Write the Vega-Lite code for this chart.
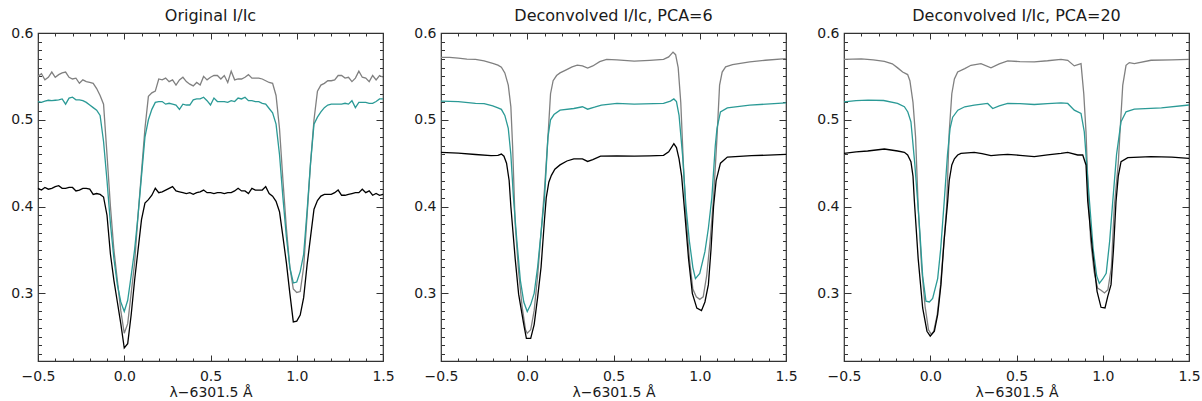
{
"$schema": "https://vega.github.io/schema/vega-lite/v6.json",
"background": "white",
"padding": {"left": 7, "top": 7, "right": 5, "bottom": 2},
"config": {
  "view": {"stroke": "#333333", "strokeWidth": 1.2},
  "font": "DejaVu Sans",
  "axis": {"grid": false, "domain": false, "labelFont": "DejaVu Sans", "labelFontSize": 14, "labelColor": "#1a1a1a", "tickColor": "#333333", "tickWidth": 1, "titleFont": "DejaVu Sans", "titleFontSize": 14, "titleFontWeight": "normal", "titleColor": "#1a1a1a"},
  "title": {"font": "DejaVu Sans", "fontSize": 16, "fontWeight": "normal", "color": "#1a1a1a", "offset": 2, "anchor": "middle"}
},
"datasets": {"d": [
{"p":"a","s":"g","x":-0.50,"y":0.550},{"p":"a","s":"g","x":-0.48,"y":0.553},{"p":"a","s":"g","x":-0.46,"y":0.546},{"p":"a","s":"g","x":-0.44,"y":0.549},{"p":"a","s":"g","x":-0.42,"y":0.555},{"p":"a","s":"g","x":-0.40,"y":0.549},{"p":"a","s":"g","x":-0.38,"y":0.552},{"p":"a","s":"g","x":-0.36,"y":0.554},{"p":"a","s":"g","x":-0.34,"y":0.555},{"p":"a","s":"g","x":-0.32,"y":0.549},{"p":"a","s":"g","x":-0.30,"y":0.547},{"p":"a","s":"g","x":-0.28,"y":0.548},{"p":"a","s":"g","x":-0.26,"y":0.542},{"p":"a","s":"g","x":-0.24,"y":0.546},{"p":"a","s":"g","x":-0.22,"y":0.544},{"p":"a","s":"g","x":-0.20,"y":0.543},{"p":"a","s":"g","x":-0.18,"y":0.542},{"p":"a","s":"g","x":-0.16,"y":0.536},{"p":"a","s":"g","x":-0.14,"y":0.528},{"p":"a","s":"g","x":-0.12,"y":0.518},{"p":"a","s":"g","x":-0.10,"y":0.46},{"p":"a","s":"g","x":-0.08,"y":0.40},{"p":"a","s":"g","x":-0.06,"y":0.35},{"p":"a","s":"g","x":-0.04,"y":0.315},{"p":"a","s":"g","x":-0.02,"y":0.28},{"p":"a","s":"g","x":0.00,"y":0.254},{"p":"a","s":"g","x":0.02,"y":0.265},{"p":"a","s":"g","x":0.04,"y":0.30},{"p":"a","s":"g","x":0.06,"y":0.335},{"p":"a","s":"g","x":0.08,"y":0.39},{"p":"a","s":"g","x":0.10,"y":0.44},{"p":"a","s":"g","x":0.12,"y":0.49},{"p":"a","s":"g","x":0.14,"y":0.527},{"p":"a","s":"g","x":0.16,"y":0.531},{"p":"a","s":"g","x":0.18,"y":0.533},{"p":"a","s":"g","x":0.20,"y":0.547},{"p":"a","s":"g","x":0.22,"y":0.546},{"p":"a","s":"g","x":0.24,"y":0.548},{"p":"a","s":"g","x":0.26,"y":0.544},{"p":"a","s":"g","x":0.28,"y":0.546},{"p":"a","s":"g","x":0.30,"y":0.540},{"p":"a","s":"g","x":0.32,"y":0.546},{"p":"a","s":"g","x":0.34,"y":0.549},{"p":"a","s":"g","x":0.36,"y":0.544},{"p":"a","s":"g","x":0.38,"y":0.541},{"p":"a","s":"g","x":0.40,"y":0.539},{"p":"a","s":"g","x":0.42,"y":0.543},{"p":"a","s":"g","x":0.44,"y":0.540},{"p":"a","s":"g","x":0.46,"y":0.550},{"p":"a","s":"g","x":0.48,"y":0.546},{"p":"a","s":"g","x":0.50,"y":0.549},{"p":"a","s":"g","x":0.52,"y":0.551},{"p":"a","s":"g","x":0.54,"y":0.551},{"p":"a","s":"g","x":0.56,"y":0.547},{"p":"a","s":"g","x":0.58,"y":0.551},{"p":"a","s":"g","x":0.60,"y":0.543},{"p":"a","s":"g","x":0.62,"y":0.556},{"p":"a","s":"g","x":0.64,"y":0.546},{"p":"a","s":"g","x":0.66,"y":0.547},{"p":"a","s":"g","x":0.68,"y":0.547},{"p":"a","s":"g","x":0.70,"y":0.549},{"p":"a","s":"g","x":0.72,"y":0.552},{"p":"a","s":"g","x":0.74,"y":0.548},{"p":"a","s":"g","x":0.76,"y":0.548},{"p":"a","s":"g","x":0.78,"y":0.548},{"p":"a","s":"g","x":0.80,"y":0.547},{"p":"a","s":"g","x":0.82,"y":0.545},{"p":"a","s":"g","x":0.84,"y":0.543},{"p":"a","s":"g","x":0.86,"y":0.542},{"p":"a","s":"g","x":0.88,"y":0.528},{"p":"a","s":"g","x":0.90,"y":0.49},{"p":"a","s":"g","x":0.92,"y":0.43},{"p":"a","s":"g","x":0.94,"y":0.375},{"p":"a","s":"g","x":0.96,"y":0.33},{"p":"a","s":"g","x":0.98,"y":0.305},{"p":"a","s":"g","x":1.00,"y":0.301},{"p":"a","s":"g","x":1.02,"y":0.302},{"p":"a","s":"g","x":1.04,"y":0.33},{"p":"a","s":"g","x":1.06,"y":0.39},{"p":"a","s":"g","x":1.08,"y":0.45},{"p":"a","s":"g","x":1.10,"y":0.50},{"p":"a","s":"g","x":1.12,"y":0.533},{"p":"a","s":"g","x":1.14,"y":0.540},{"p":"a","s":"g","x":1.16,"y":0.542},{"p":"a","s":"g","x":1.18,"y":0.545},{"p":"a","s":"g","x":1.20,"y":0.545},{"p":"a","s":"g","x":1.22,"y":0.546},{"p":"a","s":"g","x":1.24,"y":0.551},{"p":"a","s":"g","x":1.26,"y":0.551},{"p":"a","s":"g","x":1.28,"y":0.548},{"p":"a","s":"g","x":1.30,"y":0.549},{"p":"a","s":"g","x":1.32,"y":0.544},{"p":"a","s":"g","x":1.34,"y":0.548},{"p":"a","s":"g","x":1.36,"y":0.556},{"p":"a","s":"g","x":1.38,"y":0.549},{"p":"a","s":"g","x":1.40,"y":0.548},{"p":"a","s":"g","x":1.42,"y":0.544},{"p":"a","s":"g","x":1.44,"y":0.551},{"p":"a","s":"g","x":1.46,"y":0.546},{"p":"a","s":"g","x":1.48,"y":0.551},{"p":"a","s":"g","x":1.50,"y":0.549},
{"p":"a","s":"t","x":-0.50,"y":0.521},{"p":"a","s":"t","x":-0.48,"y":0.520},{"p":"a","s":"t","x":-0.46,"y":0.5215},{"p":"a","s":"t","x":-0.44,"y":0.5225},{"p":"a","s":"t","x":-0.42,"y":0.522},{"p":"a","s":"t","x":-0.40,"y":0.5225},{"p":"a","s":"t","x":-0.38,"y":0.523},{"p":"a","s":"t","x":-0.36,"y":0.524},{"p":"a","s":"t","x":-0.34,"y":0.518},{"p":"a","s":"t","x":-0.32,"y":0.525},{"p":"a","s":"t","x":-0.30,"y":0.526},{"p":"a","s":"t","x":-0.28,"y":0.523},{"p":"a","s":"t","x":-0.26,"y":0.523},{"p":"a","s":"t","x":-0.24,"y":0.522},{"p":"a","s":"t","x":-0.22,"y":0.520},{"p":"a","s":"t","x":-0.20,"y":0.517},{"p":"a","s":"t","x":-0.18,"y":0.514},{"p":"a","s":"t","x":-0.16,"y":0.511},{"p":"a","s":"t","x":-0.14,"y":0.505},{"p":"a","s":"t","x":-0.12,"y":0.475},{"p":"a","s":"t","x":-0.10,"y":0.43},{"p":"a","s":"t","x":-0.08,"y":0.38},{"p":"a","s":"t","x":-0.06,"y":0.34},{"p":"a","s":"t","x":-0.04,"y":0.31},{"p":"a","s":"t","x":-0.02,"y":0.29},{"p":"a","s":"t","x":0.00,"y":0.279},{"p":"a","s":"t","x":0.02,"y":0.292},{"p":"a","s":"t","x":0.04,"y":0.32},{"p":"a","s":"t","x":0.06,"y":0.35},{"p":"a","s":"t","x":0.08,"y":0.39},{"p":"a","s":"t","x":0.10,"y":0.435},{"p":"a","s":"t","x":0.12,"y":0.48},{"p":"a","s":"t","x":0.14,"y":0.50},{"p":"a","s":"t","x":0.16,"y":0.512},{"p":"a","s":"t","x":0.18,"y":0.520},{"p":"a","s":"t","x":0.20,"y":0.521},{"p":"a","s":"t","x":0.22,"y":0.521},{"p":"a","s":"t","x":0.24,"y":0.518},{"p":"a","s":"t","x":0.26,"y":0.519},{"p":"a","s":"t","x":0.28,"y":0.518},{"p":"a","s":"t","x":0.30,"y":0.517},{"p":"a","s":"t","x":0.32,"y":0.512},{"p":"a","s":"t","x":0.34,"y":0.518},{"p":"a","s":"t","x":0.36,"y":0.517},{"p":"a","s":"t","x":0.38,"y":0.517},{"p":"a","s":"t","x":0.40,"y":0.523},{"p":"a","s":"t","x":0.42,"y":0.524},{"p":"a","s":"t","x":0.44,"y":0.524},{"p":"a","s":"t","x":0.46,"y":0.526},{"p":"a","s":"t","x":0.48,"y":0.522},{"p":"a","s":"t","x":0.50,"y":0.517},{"p":"a","s":"t","x":0.52,"y":0.525},{"p":"a","s":"t","x":0.54,"y":0.521},{"p":"a","s":"t","x":0.56,"y":0.521},{"p":"a","s":"t","x":0.58,"y":0.521},{"p":"a","s":"t","x":0.60,"y":0.520},{"p":"a","s":"t","x":0.62,"y":0.522},{"p":"a","s":"t","x":0.64,"y":0.521},{"p":"a","s":"t","x":0.66,"y":0.525},{"p":"a","s":"t","x":0.68,"y":0.524},{"p":"a","s":"t","x":0.70,"y":0.526},{"p":"a","s":"t","x":0.72,"y":0.522},{"p":"a","s":"t","x":0.74,"y":0.522},{"p":"a","s":"t","x":0.76,"y":0.521},{"p":"a","s":"t","x":0.78,"y":0.521},{"p":"a","s":"t","x":0.80,"y":0.519},{"p":"a","s":"t","x":0.82,"y":0.518},{"p":"a","s":"t","x":0.84,"y":0.513},{"p":"a","s":"t","x":0.86,"y":0.508},{"p":"a","s":"t","x":0.88,"y":0.495},{"p":"a","s":"t","x":0.90,"y":0.46},{"p":"a","s":"t","x":0.92,"y":0.41},{"p":"a","s":"t","x":0.94,"y":0.365},{"p":"a","s":"t","x":0.96,"y":0.33},{"p":"a","s":"t","x":0.98,"y":0.312},{"p":"a","s":"t","x":1.00,"y":0.313},{"p":"a","s":"t","x":1.02,"y":0.325},{"p":"a","s":"t","x":1.04,"y":0.345},{"p":"a","s":"t","x":1.06,"y":0.395},{"p":"a","s":"t","x":1.08,"y":0.45},{"p":"a","s":"t","x":1.10,"y":0.495},{"p":"a","s":"t","x":1.12,"y":0.503},{"p":"a","s":"t","x":1.14,"y":0.509},{"p":"a","s":"t","x":1.16,"y":0.514},{"p":"a","s":"t","x":1.18,"y":0.517},{"p":"a","s":"t","x":1.20,"y":0.518},{"p":"a","s":"t","x":1.22,"y":0.518},{"p":"a","s":"t","x":1.24,"y":0.518},{"p":"a","s":"t","x":1.26,"y":0.518},{"p":"a","s":"t","x":1.28,"y":0.519},{"p":"a","s":"t","x":1.30,"y":0.518},{"p":"a","s":"t","x":1.32,"y":0.522},{"p":"a","s":"t","x":1.34,"y":0.514},{"p":"a","s":"t","x":1.36,"y":0.520},{"p":"a","s":"t","x":1.38,"y":0.520},{"p":"a","s":"t","x":1.40,"y":0.520},{"p":"a","s":"t","x":1.42,"y":0.519},{"p":"a","s":"t","x":1.44,"y":0.519},{"p":"a","s":"t","x":1.46,"y":0.521},{"p":"a","s":"t","x":1.48,"y":0.524},{"p":"a","s":"t","x":1.50,"y":0.524},
{"p":"a","s":"k","x":-0.50,"y":0.421},{"p":"a","s":"k","x":-0.48,"y":0.419},{"p":"a","s":"k","x":-0.46,"y":0.422},{"p":"a","s":"k","x":-0.44,"y":0.420},{"p":"a","s":"k","x":-0.42,"y":0.421},{"p":"a","s":"k","x":-0.40,"y":0.423},{"p":"a","s":"k","x":-0.38,"y":0.424},{"p":"a","s":"k","x":-0.36,"y":0.421},{"p":"a","s":"k","x":-0.34,"y":0.421},{"p":"a","s":"k","x":-0.32,"y":0.422},{"p":"a","s":"k","x":-0.30,"y":0.422},{"p":"a","s":"k","x":-0.28,"y":0.418},{"p":"a","s":"k","x":-0.26,"y":0.419},{"p":"a","s":"k","x":-0.24,"y":0.421},{"p":"a","s":"k","x":-0.22,"y":0.421},{"p":"a","s":"k","x":-0.20,"y":0.420},{"p":"a","s":"k","x":-0.18,"y":0.414},{"p":"a","s":"k","x":-0.16,"y":0.415},{"p":"a","s":"k","x":-0.14,"y":0.414},{"p":"a","s":"k","x":-0.12,"y":0.411},{"p":"a","s":"k","x":-0.10,"y":0.39},{"p":"a","s":"k","x":-0.08,"y":0.345},{"p":"a","s":"k","x":-0.06,"y":0.315},{"p":"a","s":"k","x":-0.04,"y":0.29},{"p":"a","s":"k","x":-0.02,"y":0.265},{"p":"a","s":"k","x":0.00,"y":0.237},{"p":"a","s":"k","x":0.02,"y":0.242},{"p":"a","s":"k","x":0.04,"y":0.275},{"p":"a","s":"k","x":0.06,"y":0.315},{"p":"a","s":"k","x":0.08,"y":0.35},{"p":"a","s":"k","x":0.10,"y":0.385},{"p":"a","s":"k","x":0.12,"y":0.404},{"p":"a","s":"k","x":0.14,"y":0.408},{"p":"a","s":"k","x":0.16,"y":0.413},{"p":"a","s":"k","x":0.18,"y":0.421},{"p":"a","s":"k","x":0.20,"y":0.416},{"p":"a","s":"k","x":0.22,"y":0.417},{"p":"a","s":"k","x":0.24,"y":0.419},{"p":"a","s":"k","x":0.26,"y":0.421},{"p":"a","s":"k","x":0.28,"y":0.423},{"p":"a","s":"k","x":0.30,"y":0.418},{"p":"a","s":"k","x":0.32,"y":0.417},{"p":"a","s":"k","x":0.34,"y":0.416},{"p":"a","s":"k","x":0.36,"y":0.415},{"p":"a","s":"k","x":0.38,"y":0.416},{"p":"a","s":"k","x":0.40,"y":0.414},{"p":"a","s":"k","x":0.42,"y":0.416},{"p":"a","s":"k","x":0.44,"y":0.417},{"p":"a","s":"k","x":0.46,"y":0.419},{"p":"a","s":"k","x":0.48,"y":0.416},{"p":"a","s":"k","x":0.50,"y":0.416},{"p":"a","s":"k","x":0.52,"y":0.415},{"p":"a","s":"k","x":0.54,"y":0.416},{"p":"a","s":"k","x":0.56,"y":0.416},{"p":"a","s":"k","x":0.58,"y":0.415},{"p":"a","s":"k","x":0.60,"y":0.416},{"p":"a","s":"k","x":0.62,"y":0.416},{"p":"a","s":"k","x":0.64,"y":0.418},{"p":"a","s":"k","x":0.66,"y":0.421},{"p":"a","s":"k","x":0.68,"y":0.418},{"p":"a","s":"k","x":0.70,"y":0.418},{"p":"a","s":"k","x":0.72,"y":0.415},{"p":"a","s":"k","x":0.74,"y":0.421},{"p":"a","s":"k","x":0.76,"y":0.419},{"p":"a","s":"k","x":0.78,"y":0.419},{"p":"a","s":"k","x":0.80,"y":0.419},{"p":"a","s":"k","x":0.82,"y":0.423},{"p":"a","s":"k","x":0.84,"y":0.415},{"p":"a","s":"k","x":0.86,"y":0.412},{"p":"a","s":"k","x":0.88,"y":0.406},{"p":"a","s":"k","x":0.90,"y":0.394},{"p":"a","s":"k","x":0.92,"y":0.365},{"p":"a","s":"k","x":0.94,"y":0.335},{"p":"a","s":"k","x":0.96,"y":0.30},{"p":"a","s":"k","x":0.98,"y":0.267},{"p":"a","s":"k","x":1.00,"y":0.268},{"p":"a","s":"k","x":1.02,"y":0.275},{"p":"a","s":"k","x":1.04,"y":0.295},{"p":"a","s":"k","x":1.06,"y":0.333},{"p":"a","s":"k","x":1.08,"y":0.365},{"p":"a","s":"k","x":1.10,"y":0.397},{"p":"a","s":"k","x":1.12,"y":0.407},{"p":"a","s":"k","x":1.14,"y":0.412},{"p":"a","s":"k","x":1.16,"y":0.414},{"p":"a","s":"k","x":1.18,"y":0.414},{"p":"a","s":"k","x":1.20,"y":0.414},{"p":"a","s":"k","x":1.22,"y":0.416},{"p":"a","s":"k","x":1.24,"y":0.419},{"p":"a","s":"k","x":1.26,"y":0.413},{"p":"a","s":"k","x":1.28,"y":0.413},{"p":"a","s":"k","x":1.30,"y":0.414},{"p":"a","s":"k","x":1.32,"y":0.415},{"p":"a","s":"k","x":1.34,"y":0.416},{"p":"a","s":"k","x":1.36,"y":0.416},{"p":"a","s":"k","x":1.38,"y":0.420},{"p":"a","s":"k","x":1.40,"y":0.416},{"p":"a","s":"k","x":1.42,"y":0.418},{"p":"a","s":"k","x":1.44,"y":0.413},{"p":"a","s":"k","x":1.46,"y":0.415},{"p":"a","s":"k","x":1.48,"y":0.413},{"p":"a","s":"k","x":1.50,"y":0.414},
{"p":"b","s":"g","x":-0.50,"y":0.572},{"p":"b","s":"g","x":-0.45,"y":0.5718},{"p":"b","s":"g","x":-0.40,"y":0.571},{"p":"b","s":"g","x":-0.35,"y":0.570},{"p":"b","s":"g","x":-0.30,"y":0.5695},{"p":"b","s":"g","x":-0.25,"y":0.568},{"p":"b","s":"g","x":-0.20,"y":0.565},{"p":"b","s":"g","x":-0.17,"y":0.563},{"p":"b","s":"g","x":-0.15,"y":0.5605},{"p":"b","s":"g","x":-0.13,"y":0.554},{"p":"b","s":"g","x":-0.11,"y":0.54},{"p":"b","s":"g","x":-0.095,"y":0.515},{"p":"b","s":"g","x":-0.085,"y":0.47},{"p":"b","s":"g","x":-0.07,"y":0.38},{"p":"b","s":"g","x":-0.05,"y":0.325},{"p":"b","s":"g","x":-0.03,"y":0.285},{"p":"b","s":"g","x":-0.01,"y":0.258},{"p":"b","s":"g","x":0.00,"y":0.254},{"p":"b","s":"g","x":0.02,"y":0.258},{"p":"b","s":"g","x":0.04,"y":0.28},{"p":"b","s":"g","x":0.06,"y":0.32},{"p":"b","s":"g","x":0.08,"y":0.37},{"p":"b","s":"g","x":0.10,"y":0.42},{"p":"b","s":"g","x":0.12,"y":0.48},{"p":"b","s":"g","x":0.135,"y":0.53},{"p":"b","s":"g","x":0.15,"y":0.545},{"p":"b","s":"g","x":0.17,"y":0.551},{"p":"b","s":"g","x":0.19,"y":0.554},{"p":"b","s":"g","x":0.22,"y":0.557},{"p":"b","s":"g","x":0.26,"y":0.561},{"p":"b","s":"g","x":0.29,"y":0.563},{"p":"b","s":"g","x":0.32,"y":0.562},{"p":"b","s":"g","x":0.35,"y":0.5595},{"p":"b","s":"g","x":0.38,"y":0.562},{"p":"b","s":"g","x":0.42,"y":0.567},{"p":"b","s":"g","x":0.46,"y":0.5697},{"p":"b","s":"g","x":0.52,"y":0.569},{"p":"b","s":"g","x":0.62,"y":0.5675},{"p":"b","s":"g","x":0.71,"y":0.5685},{"p":"b","s":"g","x":0.79,"y":0.5697},{"p":"b","s":"g","x":0.82,"y":0.5725},{"p":"b","s":"g","x":0.845,"y":0.578},{"p":"b","s":"g","x":0.86,"y":0.575},{"p":"b","s":"g","x":0.875,"y":0.56},{"p":"b","s":"g","x":0.89,"y":0.52},{"p":"b","s":"g","x":0.905,"y":0.45},{"p":"b","s":"g","x":0.92,"y":0.39},{"p":"b","s":"g","x":0.94,"y":0.34},{"p":"b","s":"g","x":0.96,"y":0.305},{"p":"b","s":"g","x":0.98,"y":0.296},{"p":"b","s":"g","x":1.00,"y":0.293},{"p":"b","s":"g","x":1.02,"y":0.296},{"p":"b","s":"g","x":1.04,"y":0.32},{"p":"b","s":"g","x":1.06,"y":0.36},{"p":"b","s":"g","x":1.08,"y":0.41},{"p":"b","s":"g","x":1.10,"y":0.48},{"p":"b","s":"g","x":1.115,"y":0.54},{"p":"b","s":"g","x":1.13,"y":0.555},{"p":"b","s":"g","x":1.15,"y":0.561},{"p":"b","s":"g","x":1.19,"y":0.5635},{"p":"b","s":"g","x":1.29,"y":0.5667},{"p":"b","s":"g","x":1.38,"y":0.5686},{"p":"b","s":"g","x":1.50,"y":0.5705},
{"p":"b","s":"t","x":-0.50,"y":0.5215},{"p":"b","s":"t","x":-0.40,"y":0.521},{"p":"b","s":"t","x":-0.30,"y":0.519},{"p":"b","s":"t","x":-0.25,"y":0.5185},{"p":"b","s":"t","x":-0.20,"y":0.516},{"p":"b","s":"t","x":-0.17,"y":0.5138},{"p":"b","s":"t","x":-0.15,"y":0.512},{"p":"b","s":"t","x":-0.13,"y":0.505},{"p":"b","s":"t","x":-0.11,"y":0.49},{"p":"b","s":"t","x":-0.095,"y":0.46},{"p":"b","s":"t","x":-0.08,"y":0.41},{"p":"b","s":"t","x":-0.06,"y":0.36},{"p":"b","s":"t","x":-0.04,"y":0.315},{"p":"b","s":"t","x":-0.02,"y":0.29},{"p":"b","s":"t","x":0.00,"y":0.279},{"p":"b","s":"t","x":0.02,"y":0.287},{"p":"b","s":"t","x":0.04,"y":0.30},{"p":"b","s":"t","x":0.06,"y":0.33},{"p":"b","s":"t","x":0.08,"y":0.37},{"p":"b","s":"t","x":0.10,"y":0.41},{"p":"b","s":"t","x":0.12,"y":0.48},{"p":"b","s":"t","x":0.135,"y":0.50},{"p":"b","s":"t","x":0.155,"y":0.506},{"p":"b","s":"t","x":0.19,"y":0.511},{"p":"b","s":"t","x":0.27,"y":0.513},{"p":"b","s":"t","x":0.32,"y":0.515},{"p":"b","s":"t","x":0.35,"y":0.5122},{"p":"b","s":"t","x":0.39,"y":0.5145},{"p":"b","s":"t","x":0.43,"y":0.517},{"p":"b","s":"t","x":0.52,"y":0.5188},{"p":"b","s":"t","x":0.62,"y":0.518},{"p":"b","s":"t","x":0.79,"y":0.5188},{"p":"b","s":"t","x":0.83,"y":0.5215},{"p":"b","s":"t","x":0.85,"y":0.524},{"p":"b","s":"t","x":0.865,"y":0.521},{"p":"b","s":"t","x":0.88,"y":0.505},{"p":"b","s":"t","x":0.90,"y":0.46},{"p":"b","s":"t","x":0.92,"y":0.40},{"p":"b","s":"t","x":0.94,"y":0.36},{"p":"b","s":"t","x":0.96,"y":0.33},{"p":"b","s":"t","x":0.975,"y":0.317},{"p":"b","s":"t","x":1.00,"y":0.323},{"p":"b","s":"t","x":1.03,"y":0.348},{"p":"b","s":"t","x":1.05,"y":0.375},{"p":"b","s":"t","x":1.07,"y":0.41},{"p":"b","s":"t","x":1.09,"y":0.47},{"p":"b","s":"t","x":1.10,"y":0.49},{"p":"b","s":"t","x":1.12,"y":0.509},{"p":"b","s":"t","x":1.16,"y":0.5137},{"p":"b","s":"t","x":1.29,"y":0.5168},{"p":"b","s":"t","x":1.50,"y":0.5195},
{"p":"b","s":"k","x":-0.50,"y":0.4625},{"p":"b","s":"k","x":-0.40,"y":0.4615},{"p":"b","s":"k","x":-0.30,"y":0.4600},{"p":"b","s":"k","x":-0.21,"y":0.4586},{"p":"b","s":"k","x":-0.17,"y":0.4590},{"p":"b","s":"k","x":-0.15,"y":0.4605},{"p":"b","s":"k","x":-0.135,"y":0.458},{"p":"b","s":"k","x":-0.12,"y":0.45},{"p":"b","s":"k","x":-0.105,"y":0.43},{"p":"b","s":"k","x":-0.095,"y":0.40},{"p":"b","s":"k","x":-0.07,"y":0.34},{"p":"b","s":"k","x":-0.05,"y":0.299},{"p":"b","s":"k","x":-0.02,"y":0.264},{"p":"b","s":"k","x":-0.005,"y":0.248},{"p":"b","s":"k","x":0.02,"y":0.248},{"p":"b","s":"k","x":0.04,"y":0.264},{"p":"b","s":"k","x":0.06,"y":0.295},{"p":"b","s":"k","x":0.08,"y":0.33},{"p":"b","s":"k","x":0.10,"y":0.385},{"p":"b","s":"k","x":0.11,"y":0.41},{"p":"b","s":"k","x":0.125,"y":0.428},{"p":"b","s":"k","x":0.14,"y":0.436},{"p":"b","s":"k","x":0.16,"y":0.443},{"p":"b","s":"k","x":0.19,"y":0.448},{"p":"b","s":"k","x":0.23,"y":0.4525},{"p":"b","s":"k","x":0.27,"y":0.455},{"p":"b","s":"k","x":0.32,"y":0.455},{"p":"b","s":"k","x":0.35,"y":0.452},{"p":"b","s":"k","x":0.38,"y":0.454},{"p":"b","s":"k","x":0.425,"y":0.458},{"p":"b","s":"k","x":0.52,"y":0.4585},{"p":"b","s":"k","x":0.62,"y":0.458},{"p":"b","s":"k","x":0.71,"y":0.4585},{"p":"b","s":"k","x":0.79,"y":0.459},{"p":"b","s":"k","x":0.82,"y":0.463},{"p":"b","s":"k","x":0.85,"y":0.4725},{"p":"b","s":"k","x":0.865,"y":0.468},{"p":"b","s":"k","x":0.88,"y":0.455},{"p":"b","s":"k","x":0.895,"y":0.435},{"p":"b","s":"k","x":0.91,"y":0.40},{"p":"b","s":"k","x":0.935,"y":0.34},{"p":"b","s":"k","x":0.957,"y":0.30},{"p":"b","s":"k","x":0.983,"y":0.283},{"p":"b","s":"k","x":1.01,"y":0.28},{"p":"b","s":"k","x":1.03,"y":0.29},{"p":"b","s":"k","x":1.05,"y":0.31},{"p":"b","s":"k","x":1.065,"y":0.35},{"p":"b","s":"k","x":1.08,"y":0.40},{"p":"b","s":"k","x":1.095,"y":0.43},{"p":"b","s":"k","x":1.12,"y":0.45},{"p":"b","s":"k","x":1.16,"y":0.457},{"p":"b","s":"k","x":1.30,"y":0.4586},{"p":"b","s":"k","x":1.50,"y":0.4601},
{"p":"c","s":"g","x":-0.50,"y":0.5697},{"p":"c","s":"g","x":-0.40,"y":0.5702},{"p":"c","s":"g","x":-0.33,"y":0.569},{"p":"c","s":"g","x":-0.266,"y":0.5674},{"p":"c","s":"g","x":-0.22,"y":0.5645},{"p":"c","s":"g","x":-0.189,"y":0.5598},{"p":"c","s":"g","x":-0.16,"y":0.555},{"p":"c","s":"g","x":-0.131,"y":0.5521},{"p":"c","s":"g","x":-0.118,"y":0.545},{"p":"c","s":"g","x":-0.10,"y":0.52},{"p":"c","s":"g","x":-0.085,"y":0.48},{"p":"c","s":"g","x":-0.07,"y":0.40},{"p":"c","s":"g","x":-0.05,"y":0.33},{"p":"c","s":"g","x":-0.03,"y":0.285},{"p":"c","s":"g","x":-0.01,"y":0.258},{"p":"c","s":"g","x":0.005,"y":0.253},{"p":"c","s":"g","x":0.02,"y":0.256},{"p":"c","s":"g","x":0.04,"y":0.275},{"p":"c","s":"g","x":0.06,"y":0.31},{"p":"c","s":"g","x":0.08,"y":0.36},{"p":"c","s":"g","x":0.095,"y":0.40},{"p":"c","s":"g","x":0.11,"y":0.486},{"p":"c","s":"g","x":0.125,"y":0.53},{"p":"c","s":"g","x":0.14,"y":0.547},{"p":"c","s":"g","x":0.159,"y":0.5552},{"p":"c","s":"g","x":0.20,"y":0.559},{"p":"c","s":"g","x":0.236,"y":0.5628},{"p":"c","s":"g","x":0.294,"y":0.5647},{"p":"c","s":"g","x":0.352,"y":0.5598},{"p":"c","s":"g","x":0.40,"y":0.5645},{"p":"c","s":"g","x":0.449,"y":0.5678},{"p":"c","s":"g","x":0.52,"y":0.567},{"p":"c","s":"g","x":0.603,"y":0.5667},{"p":"c","s":"g","x":0.68,"y":0.568},{"p":"c","s":"g","x":0.758,"y":0.5697},{"p":"c","s":"g","x":0.797,"y":0.5686},{"p":"c","s":"g","x":0.835,"y":0.5621},{"p":"c","s":"g","x":0.874,"y":0.5647},{"p":"c","s":"g","x":0.89,"y":0.53},{"p":"c","s":"g","x":0.903,"y":0.486},{"p":"c","s":"g","x":0.915,"y":0.42},{"p":"c","s":"g","x":0.93,"y":0.36},{"p":"c","s":"g","x":0.95,"y":0.325},{"p":"c","s":"g","x":0.97,"y":0.306},{"p":"c","s":"g","x":0.99,"y":0.3035},{"p":"c","s":"g","x":1.01,"y":0.3004},{"p":"c","s":"g","x":1.03,"y":0.3042},{"p":"c","s":"g","x":1.05,"y":0.33},{"p":"c","s":"g","x":1.067,"y":0.40},{"p":"c","s":"g","x":1.09,"y":0.45},{"p":"c","s":"g","x":1.10,"y":0.486},{"p":"c","s":"g","x":1.116,"y":0.54},{"p":"c","s":"g","x":1.135,"y":0.5628},{"p":"c","s":"g","x":1.154,"y":0.5659},{"p":"c","s":"g","x":1.183,"y":0.5647},{"p":"c","s":"g","x":1.28,"y":0.5686},{"p":"c","s":"g","x":1.40,"y":0.569},{"p":"c","s":"g","x":1.50,"y":0.5697},
{"p":"c","s":"t","x":-0.50,"y":0.5207},{"p":"c","s":"t","x":-0.43,"y":0.522},{"p":"c","s":"t","x":-0.36,"y":0.5226},{"p":"c","s":"t","x":-0.27,"y":0.5222},{"p":"c","s":"t","x":-0.19,"y":0.5188},{"p":"c","s":"t","x":-0.15,"y":0.515},{"p":"c","s":"t","x":-0.13,"y":0.509},{"p":"c","s":"t","x":-0.112,"y":0.4977},{"p":"c","s":"t","x":-0.09,"y":0.45},{"p":"c","s":"t","x":-0.073,"y":0.406},{"p":"c","s":"t","x":-0.06,"y":0.37},{"p":"c","s":"t","x":-0.044,"y":0.32},{"p":"c","s":"t","x":-0.025,"y":0.291},{"p":"c","s":"t","x":-0.005,"y":0.29},{"p":"c","s":"t","x":0.014,"y":0.294},{"p":"c","s":"t","x":0.043,"y":0.317},{"p":"c","s":"t","x":0.06,"y":0.35},{"p":"c","s":"t","x":0.081,"y":0.406},{"p":"c","s":"t","x":0.10,"y":0.46},{"p":"c","s":"t","x":0.115,"y":0.49},{"p":"c","s":"t","x":0.13,"y":0.503},{"p":"c","s":"t","x":0.16,"y":0.511},{"p":"c","s":"t","x":0.20,"y":0.515},{"p":"c","s":"t","x":0.255,"y":0.5169},{"p":"c","s":"t","x":0.30,"y":0.518},{"p":"c","s":"t","x":0.333,"y":0.5188},{"p":"c","s":"t","x":0.362,"y":0.513},{"p":"c","s":"t","x":0.40,"y":0.516},{"p":"c","s":"t","x":0.449,"y":0.5188},{"p":"c","s":"t","x":0.52,"y":0.5185},{"p":"c","s":"t","x":0.603,"y":0.5176},{"p":"c","s":"t","x":0.68,"y":0.5185},{"p":"c","s":"t","x":0.758,"y":0.5195},{"p":"c","s":"t","x":0.797,"y":0.5188},{"p":"c","s":"t","x":0.835,"y":0.5111},{"p":"c","s":"t","x":0.874,"y":0.5073},{"p":"c","s":"t","x":0.893,"y":0.486},{"p":"c","s":"t","x":0.91,"y":0.44},{"p":"c","s":"t","x":0.923,"y":0.406},{"p":"c","s":"t","x":0.945,"y":0.35},{"p":"c","s":"t","x":0.965,"y":0.32},{"p":"c","s":"t","x":0.98,"y":0.3115},{"p":"c","s":"t","x":1.00,"y":0.3165},{"p":"c","s":"t","x":1.02,"y":0.323},{"p":"c","s":"t","x":1.04,"y":0.36},{"p":"c","s":"t","x":1.058,"y":0.406},{"p":"c","s":"t","x":1.08,"y":0.46},{"p":"c","s":"t","x":1.106,"y":0.4977},{"p":"c","s":"t","x":1.135,"y":0.5092},{"p":"c","s":"t","x":1.183,"y":0.5122},{"p":"c","s":"t","x":1.34,"y":0.5138},{"p":"c","s":"t","x":1.50,"y":0.517},
{"p":"c","s":"k","x":-0.50,"y":0.4613},{"p":"c","s":"k","x":-0.43,"y":0.463},{"p":"c","s":"k","x":-0.363,"y":0.464},{"p":"c","s":"k","x":-0.266,"y":0.4663},{"p":"c","s":"k","x":-0.189,"y":0.464},{"p":"c","s":"k","x":-0.15,"y":0.4625},{"p":"c","s":"k","x":-0.131,"y":0.4594},{"p":"c","s":"k","x":-0.112,"y":0.4517},{"p":"c","s":"k","x":-0.10,"y":0.435},{"p":"c","s":"k","x":-0.092,"y":0.406},{"p":"c","s":"k","x":-0.07,"y":0.34},{"p":"c","s":"k","x":-0.044,"y":0.2831},{"p":"c","s":"k","x":-0.019,"y":0.2563},{"p":"c","s":"k","x":0.0,"y":0.2506},{"p":"c","s":"k","x":0.024,"y":0.2563},{"p":"c","s":"k","x":0.043,"y":0.2755},{"p":"c","s":"k","x":0.062,"y":0.31},{"p":"c","s":"k","x":0.08,"y":0.36},{"p":"c","s":"k","x":0.101,"y":0.406},{"p":"c","s":"k","x":0.11,"y":0.43},{"p":"c","s":"k","x":0.125,"y":0.448},{"p":"c","s":"k","x":0.14,"y":0.455},{"p":"c","s":"k","x":0.159,"y":0.4594},{"p":"c","s":"k","x":0.178,"y":0.4613},{"p":"c","s":"k","x":0.255,"y":0.4625},{"p":"c","s":"k","x":0.30,"y":0.461},{"p":"c","s":"k","x":0.352,"y":0.4586},{"p":"c","s":"k","x":0.40,"y":0.4595},{"p":"c","s":"k","x":0.449,"y":0.4602},{"p":"c","s":"k","x":0.52,"y":0.459},{"p":"c","s":"k","x":0.603,"y":0.4575},{"p":"c","s":"k","x":0.68,"y":0.4595},{"p":"c","s":"k","x":0.758,"y":0.4613},{"p":"c","s":"k","x":0.797,"y":0.4625},{"p":"c","s":"k","x":0.855,"y":0.4594},{"p":"c","s":"k","x":0.884,"y":0.4594},{"p":"c","s":"k","x":0.903,"y":0.4479},{"p":"c","s":"k","x":0.913,"y":0.406},{"p":"c","s":"k","x":0.94,"y":0.35},{"p":"c","s":"k","x":0.967,"y":0.3023},{"p":"c","s":"k","x":0.99,"y":0.2839},{"p":"c","s":"k","x":1.013,"y":0.2831},{"p":"c","s":"k","x":1.029,"y":0.2965},{"p":"c","s":"k","x":1.048,"y":0.31},{"p":"c","s":"k","x":1.062,"y":0.35},{"p":"c","s":"k","x":1.077,"y":0.406},{"p":"c","s":"k","x":1.09,"y":0.435},{"p":"c","s":"k","x":1.106,"y":0.4517},{"p":"c","s":"k","x":1.145,"y":0.4563},{"p":"c","s":"k","x":1.28,"y":0.4575},{"p":"c","s":"k","x":1.40,"y":0.457},{"p":"c","s":"k","x":1.50,"y":0.4556}
]},
"spacing": 58,
"bounds": "flush",
"hconcat": [
{"width": 345, "height": 328, "title": {"text": "Original I/Ic"}, "data": {"name": "d"}, "transform": [{"filter": {"field": "p", "equal": "a"}}],
 "layer": [
  {"mark": {"type": "line", "strokeWidth": 1.3}, "encoding": {
    "x": {"field": "x", "type": "quantitative", "scale": {"domain": [-0.5, 1.5], "nice": false, "zero": false}, "axis": {"orient": "bottom", "values": [-0.5, 0, 0.5, 1, 1.5], "format": ".1f", "ticks": false, "labelPadding": 8, "labelFlush": false, "title": "λ−6301.5 Å", "titlePadding": 2}},
    "y": {"field": "y", "type": "quantitative", "scale": {"domain": [0.222, 0.6], "nice": false, "zero": false}, "axis": {"orient": "left", "values": [0.3, 0.4, 0.5, 0.6], "format": ".1f", "ticks": false, "labelPadding": 5, "labelFlush": false, "minExtent": 30, "maxExtent": 30, "title": null}},
    "color": {"field": "s", "type": "nominal", "scale": {"domain": ["g", "t", "k"], "range": ["#808080", "#2b9a96", "#000000"]}, "legend": null}}},
  {"mark": {"type": "point", "opacity": 0}, "encoding": {
    "x": {"field": "x", "type": "quantitative", "scale": {"domain": [-0.5, 1.5], "nice": false, "zero": false}, "axis": {"orient": "bottom", "values": [-0.5, 0, 0.5, 1, 1.5], "labels": false, "tickSize": -6, "title": null, "minExtent": 0, "maxExtent": 0}},
    "y": {"field": "y", "type": "quantitative", "scale": {"domain": [0.222, 0.6], "nice": false, "zero": false}, "axis": {"orient": "left", "values": [0.3, 0.4, 0.5, 0.6], "labels": false, "tickSize": -7, "title": null, "minExtent": 0, "maxExtent": 0}}}},
  {"mark": {"type": "point", "opacity": 0}, "encoding": {
    "x": {"field": "x", "type": "quantitative", "scale": {"domain": [-0.5, 1.5], "nice": false, "zero": false}, "axis": {"orient": "bottom", "values": [-0.4, -0.3, -0.2, -0.1, 0.1, 0.2, 0.3, 0.4, 0.6, 0.7, 0.8, 0.9, 1.1, 1.2, 1.3, 1.4], "labels": false, "tickSize": -3, "title": null, "minExtent": 0, "maxExtent": 0}},
    "y": {"field": "y", "type": "quantitative", "scale": {"domain": [0.222, 0.6], "nice": false, "zero": false}, "axis": {"orient": "left", "values": [0.23, 0.24, 0.25, 0.26, 0.27, 0.28, 0.29, 0.31, 0.32, 0.33, 0.34, 0.35, 0.36, 0.37, 0.38, 0.39, 0.41, 0.42, 0.43, 0.44, 0.45, 0.46, 0.47, 0.48, 0.49, 0.51, 0.52, 0.53, 0.54, 0.55, 0.56, 0.57, 0.58, 0.59], "labels": false, "tickSize": -3.5, "title": null, "minExtent": 0, "maxExtent": 0}}}},
  {"mark": {"type": "point", "opacity": 0}, "encoding": {
    "x": {"field": "x", "type": "quantitative", "scale": {"domain": [-0.5, 1.5], "nice": false, "zero": false}, "axis": {"orient": "top", "values": [-0.5, 0, 0.5, 1, 1.5], "labels": false, "tickSize": -6, "title": null, "minExtent": 0, "maxExtent": 0}},
    "y": {"field": "y", "type": "quantitative", "scale": {"domain": [0.222, 0.6], "nice": false, "zero": false}, "axis": {"orient": "right", "values": [0.3, 0.4, 0.5, 0.6], "labels": false, "tickSize": -7, "title": null, "minExtent": 0, "maxExtent": 0}}}},
  {"mark": {"type": "point", "opacity": 0}, "encoding": {
    "x": {"field": "x", "type": "quantitative", "scale": {"domain": [-0.5, 1.5], "nice": false, "zero": false}, "axis": {"orient": "top", "values": [-0.4, -0.3, -0.2, -0.1, 0.1, 0.2, 0.3, 0.4, 0.6, 0.7, 0.8, 0.9, 1.1, 1.2, 1.3, 1.4], "labels": false, "tickSize": -3, "title": null, "minExtent": 0, "maxExtent": 0}},
    "y": {"field": "y", "type": "quantitative", "scale": {"domain": [0.222, 0.6], "nice": false, "zero": false}, "axis": {"orient": "right", "values": [0.23, 0.24, 0.25, 0.26, 0.27, 0.28, 0.29, 0.31, 0.32, 0.33, 0.34, 0.35, 0.36, 0.37, 0.38, 0.39, 0.41, 0.42, 0.43, 0.44, 0.45, 0.46, 0.47, 0.48, 0.49, 0.51, 0.52, 0.53, 0.54, 0.55, 0.56, 0.57, 0.58, 0.59], "labels": false, "tickSize": -3.5, "title": null, "minExtent": 0, "maxExtent": 0}}}}
 ],
 "resolve": {"axis": {"x": "independent", "y": "independent"}}},
{"width": 345, "height": 328, "title": {"text": "Deconvolved I/Ic, PCA=6"}, "data": {"name": "d"}, "transform": [{"filter": {"field": "p", "equal": "b"}}],
 "layer": [
  {"mark": {"type": "line", "strokeWidth": 1.3}, "encoding": {
    "x": {"field": "x", "type": "quantitative", "scale": {"domain": [-0.5, 1.5], "nice": false, "zero": false}, "axis": {"orient": "bottom", "values": [-0.5, 0, 0.5, 1, 1.5], "format": ".1f", "ticks": false, "labelPadding": 8, "labelFlush": false, "title": "λ−6301.5 Å", "titlePadding": 2}},
    "y": {"field": "y", "type": "quantitative", "scale": {"domain": [0.222, 0.6], "nice": false, "zero": false}, "axis": {"orient": "left", "values": [0.3, 0.4, 0.5, 0.6], "format": ".1f", "ticks": false, "labelPadding": 5, "labelFlush": false, "minExtent": 30, "maxExtent": 30, "title": null}},
    "color": {"field": "s", "type": "nominal", "scale": {"domain": ["g", "t", "k"], "range": ["#808080", "#2b9a96", "#000000"]}, "legend": null}}},
  {"mark": {"type": "point", "opacity": 0}, "encoding": {
    "x": {"field": "x", "type": "quantitative", "scale": {"domain": [-0.5, 1.5], "nice": false, "zero": false}, "axis": {"orient": "bottom", "values": [-0.5, 0, 0.5, 1, 1.5], "labels": false, "tickSize": -6, "title": null, "minExtent": 0, "maxExtent": 0}},
    "y": {"field": "y", "type": "quantitative", "scale": {"domain": [0.222, 0.6], "nice": false, "zero": false}, "axis": {"orient": "left", "values": [0.3, 0.4, 0.5, 0.6], "labels": false, "tickSize": -7, "title": null, "minExtent": 0, "maxExtent": 0}}}},
  {"mark": {"type": "point", "opacity": 0}, "encoding": {
    "x": {"field": "x", "type": "quantitative", "scale": {"domain": [-0.5, 1.5], "nice": false, "zero": false}, "axis": {"orient": "bottom", "values": [-0.4, -0.3, -0.2, -0.1, 0.1, 0.2, 0.3, 0.4, 0.6, 0.7, 0.8, 0.9, 1.1, 1.2, 1.3, 1.4], "labels": false, "tickSize": -3, "title": null, "minExtent": 0, "maxExtent": 0}},
    "y": {"field": "y", "type": "quantitative", "scale": {"domain": [0.222, 0.6], "nice": false, "zero": false}, "axis": {"orient": "left", "values": [0.23, 0.24, 0.25, 0.26, 0.27, 0.28, 0.29, 0.31, 0.32, 0.33, 0.34, 0.35, 0.36, 0.37, 0.38, 0.39, 0.41, 0.42, 0.43, 0.44, 0.45, 0.46, 0.47, 0.48, 0.49, 0.51, 0.52, 0.53, 0.54, 0.55, 0.56, 0.57, 0.58, 0.59], "labels": false, "tickSize": -3.5, "title": null, "minExtent": 0, "maxExtent": 0}}}},
  {"mark": {"type": "point", "opacity": 0}, "encoding": {
    "x": {"field": "x", "type": "quantitative", "scale": {"domain": [-0.5, 1.5], "nice": false, "zero": false}, "axis": {"orient": "top", "values": [-0.5, 0, 0.5, 1, 1.5], "labels": false, "tickSize": -6, "title": null, "minExtent": 0, "maxExtent": 0}},
    "y": {"field": "y", "type": "quantitative", "scale": {"domain": [0.222, 0.6], "nice": false, "zero": false}, "axis": {"orient": "right", "values": [0.3, 0.4, 0.5, 0.6], "labels": false, "tickSize": -7, "title": null, "minExtent": 0, "maxExtent": 0}}}},
  {"mark": {"type": "point", "opacity": 0}, "encoding": {
    "x": {"field": "x", "type": "quantitative", "scale": {"domain": [-0.5, 1.5], "nice": false, "zero": false}, "axis": {"orient": "top", "values": [-0.4, -0.3, -0.2, -0.1, 0.1, 0.2, 0.3, 0.4, 0.6, 0.7, 0.8, 0.9, 1.1, 1.2, 1.3, 1.4], "labels": false, "tickSize": -3, "title": null, "minExtent": 0, "maxExtent": 0}},
    "y": {"field": "y", "type": "quantitative", "scale": {"domain": [0.222, 0.6], "nice": false, "zero": false}, "axis": {"orient": "right", "values": [0.23, 0.24, 0.25, 0.26, 0.27, 0.28, 0.29, 0.31, 0.32, 0.33, 0.34, 0.35, 0.36, 0.37, 0.38, 0.39, 0.41, 0.42, 0.43, 0.44, 0.45, 0.46, 0.47, 0.48, 0.49, 0.51, 0.52, 0.53, 0.54, 0.55, 0.56, 0.57, 0.58, 0.59], "labels": false, "tickSize": -3.5, "title": null, "minExtent": 0, "maxExtent": 0}}}}
 ],
 "resolve": {"axis": {"x": "independent", "y": "independent"}}},
{"width": 345, "height": 328, "title": {"text": "Deconvolved I/Ic, PCA=20"}, "data": {"name": "d"}, "transform": [{"filter": {"field": "p", "equal": "c"}}],
 "layer": [
  {"mark": {"type": "line", "strokeWidth": 1.3}, "encoding": {
    "x": {"field": "x", "type": "quantitative", "scale": {"domain": [-0.5, 1.5], "nice": false, "zero": false}, "axis": {"orient": "bottom", "values": [-0.5, 0, 0.5, 1, 1.5], "format": ".1f", "ticks": false, "labelPadding": 8, "labelFlush": false, "title": "λ−6301.5 Å", "titlePadding": 2}},
    "y": {"field": "y", "type": "quantitative", "scale": {"domain": [0.222, 0.6], "nice": false, "zero": false}, "axis": {"orient": "left", "values": [0.3, 0.4, 0.5, 0.6], "format": ".1f", "ticks": false, "labelPadding": 5, "labelFlush": false, "minExtent": 30, "maxExtent": 30, "title": null}},
    "color": {"field": "s", "type": "nominal", "scale": {"domain": ["g", "t", "k"], "range": ["#808080", "#2b9a96", "#000000"]}, "legend": null}}},
  {"mark": {"type": "point", "opacity": 0}, "encoding": {
    "x": {"field": "x", "type": "quantitative", "scale": {"domain": [-0.5, 1.5], "nice": false, "zero": false}, "axis": {"orient": "bottom", "values": [-0.5, 0, 0.5, 1, 1.5], "labels": false, "tickSize": -6, "title": null, "minExtent": 0, "maxExtent": 0}},
    "y": {"field": "y", "type": "quantitative", "scale": {"domain": [0.222, 0.6], "nice": false, "zero": false}, "axis": {"orient": "left", "values": [0.3, 0.4, 0.5, 0.6], "labels": false, "tickSize": -7, "title": null, "minExtent": 0, "maxExtent": 0}}}},
  {"mark": {"type": "point", "opacity": 0}, "encoding": {
    "x": {"field": "x", "type": "quantitative", "scale": {"domain": [-0.5, 1.5], "nice": false, "zero": false}, "axis": {"orient": "bottom", "values": [-0.4, -0.3, -0.2, -0.1, 0.1, 0.2, 0.3, 0.4, 0.6, 0.7, 0.8, 0.9, 1.1, 1.2, 1.3, 1.4], "labels": false, "tickSize": -3, "title": null, "minExtent": 0, "maxExtent": 0}},
    "y": {"field": "y", "type": "quantitative", "scale": {"domain": [0.222, 0.6], "nice": false, "zero": false}, "axis": {"orient": "left", "values": [0.23, 0.24, 0.25, 0.26, 0.27, 0.28, 0.29, 0.31, 0.32, 0.33, 0.34, 0.35, 0.36, 0.37, 0.38, 0.39, 0.41, 0.42, 0.43, 0.44, 0.45, 0.46, 0.47, 0.48, 0.49, 0.51, 0.52, 0.53, 0.54, 0.55, 0.56, 0.57, 0.58, 0.59], "labels": false, "tickSize": -3.5, "title": null, "minExtent": 0, "maxExtent": 0}}}},
  {"mark": {"type": "point", "opacity": 0}, "encoding": {
    "x": {"field": "x", "type": "quantitative", "scale": {"domain": [-0.5, 1.5], "nice": false, "zero": false}, "axis": {"orient": "top", "values": [-0.5, 0, 0.5, 1, 1.5], "labels": false, "tickSize": -6, "title": null, "minExtent": 0, "maxExtent": 0}},
    "y": {"field": "y", "type": "quantitative", "scale": {"domain": [0.222, 0.6], "nice": false, "zero": false}, "axis": {"orient": "right", "values": [0.3, 0.4, 0.5, 0.6], "labels": false, "tickSize": -7, "title": null, "minExtent": 0, "maxExtent": 0}}}},
  {"mark": {"type": "point", "opacity": 0}, "encoding": {
    "x": {"field": "x", "type": "quantitative", "scale": {"domain": [-0.5, 1.5], "nice": false, "zero": false}, "axis": {"orient": "top", "values": [-0.4, -0.3, -0.2, -0.1, 0.1, 0.2, 0.3, 0.4, 0.6, 0.7, 0.8, 0.9, 1.1, 1.2, 1.3, 1.4], "labels": false, "tickSize": -3, "title": null, "minExtent": 0, "maxExtent": 0}},
    "y": {"field": "y", "type": "quantitative", "scale": {"domain": [0.222, 0.6], "nice": false, "zero": false}, "axis": {"orient": "right", "values": [0.23, 0.24, 0.25, 0.26, 0.27, 0.28, 0.29, 0.31, 0.32, 0.33, 0.34, 0.35, 0.36, 0.37, 0.38, 0.39, 0.41, 0.42, 0.43, 0.44, 0.45, 0.46, 0.47, 0.48, 0.49, 0.51, 0.52, 0.53, 0.54, 0.55, 0.56, 0.57, 0.58, 0.59], "labels": false, "tickSize": -3.5, "title": null, "minExtent": 0, "maxExtent": 0}}}}
 ],
 "resolve": {"axis": {"x": "independent", "y": "independent"}}}
]
}
